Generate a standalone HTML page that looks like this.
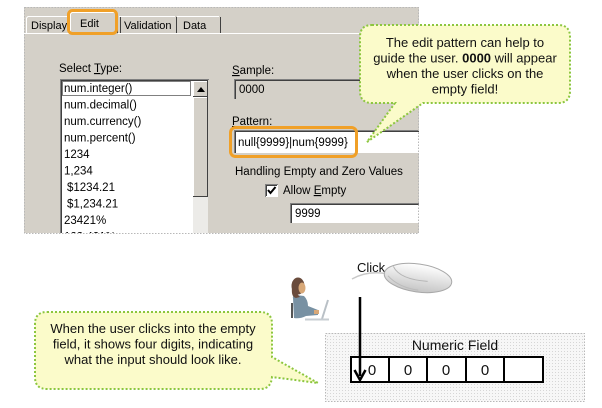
<!DOCTYPE html>
<html><head><meta charset="utf-8">
<style>
html,body{margin:0;padding:0;background:#fff;}
svg{display:block;}
.d{font-family:"Liberation Sans",sans-serif;font-size:11.5px;fill:#000;}
.t{font-family:"Liberation Sans",sans-serif;font-size:11px;fill:#000;}
.c{font-family:"Liberation Sans",sans-serif;font-size:13px;fill:#111;}
</style></head>
<body>
<svg width="602" height="408" viewBox="0 0 602 408" xmlns="http://www.w3.org/2000/svg">
<defs>
  <clipPath id="panel"><rect x="24" y="7" width="395" height="226"/></clipPath>
  <pattern id="grid" width="3" height="3" patternUnits="userSpaceOnUse">
    <rect width="3" height="3" fill="#f7f7f7"/>
    <rect width="1" height="1" fill="#d6d6d6"/>
  </pattern>
  <linearGradient id="mg" x1="0" y1="0" x2="0" y2="1">
    <stop offset="0" stop-color="#ffffff"/>
    <stop offset="1" stop-color="#c4c4c4"/>
  </linearGradient>
</defs>

<!-- ===== Dialog screenshot ===== -->
<g clip-path="url(#panel)">
  <rect x="24" y="7" width="395" height="226" fill="#d4d0c8"/>
  <line x1="24" y1="33.5" x2="419" y2="33.5" stroke="#fff"/>
  <!-- Display tab -->
  <path d="M26.5 33 V18 L28 16.5 H70" fill="none" stroke="#fff"/>
  <text class="t" x="31" y="29">Display</text>
  <!-- Edit tab (active) -->
  <rect x="70" y="12" width="48" height="22" fill="#d4d0c8"/>
  <path d="M70.5 34 V14 L72 12.5 H116" fill="none" stroke="#fff"/>
  <path d="M117.5 14 V33" fill="none" stroke="#404040"/>
  <text class="t" x="80" y="27">Edit</text>
  <!-- Validation tab -->
  <path d="M119 16.5 H175" fill="none" stroke="#fff"/>
  <path d="M120.5 17 V33" stroke="#404040"/>
  <path d="M176.5 17 V33" stroke="#404040"/>
  <text class="t" x="124" y="29">Validation</text>
  <!-- Data tab -->
  <path d="M177 16.5 H219" fill="none" stroke="#fff"/>
  <path d="M220.5 17 V33" stroke="#404040"/>
  <text class="t" x="183" y="29">Data</text>

  <text class="d" x="59" y="72">Select <tspan text-decoration="underline">T</tspan>ype:</text>
  <!-- listbox -->
  <rect x="60" y="79" width="149" height="170" fill="#fff"/>
  <path d="M60.5 249 V79.5 H209" fill="none" stroke="#808080"/>
  <path d="M61.5 249 V80.5 H208" fill="none" stroke="#404040"/>
  <path d="M208.5 80 V249" stroke="#d4d0c8"/>
  <!-- scrollbar -->
  <rect x="193" y="81" width="15" height="168" fill="#ecebe8"/>
  <rect x="193" y="81" width="15" height="16" fill="#d4d0c8"/>
  <path d="M193.5 96 V81.5 H207" fill="none" stroke="#fff"/>
  <path d="M193 96.5 H207.5 V81" fill="none" stroke="#404040"/>
  <path d="M197 92 L201 87 L205 92 Z" fill="#000"/>
  <rect x="193" y="97" width="15" height="100" fill="#d4d0c8"/>
  <path d="M193.5 196 V97.5 H207" fill="none" stroke="#fff"/>
  <path d="M193 196.5 H207.5 V97" fill="none" stroke="#404040"/>
  <rect x="62.5" y="81.5" width="128" height="14" fill="none" stroke="#000" stroke-dasharray="1 1"/>
  <text class="d" x="64" y="92">num.integer()</text>
  <text class="d" x="64" y="108.5">num.decimal()</text>
  <text class="d" x="64" y="125">num.currency()</text>
  <text class="d" x="64" y="141.5">num.percent()</text>
  <text class="d" x="64" y="158">1234</text>
  <text class="d" x="64" y="174.5">1,234</text>
  <text class="d" x="67" y="191">$1234.21</text>
  <text class="d" x="67" y="207.5">$1,234.21</text>
  <text class="d" x="64" y="224">23421%</text>
  <text class="d" x="64" y="240.5">123,421%</text>

  <!-- Sample -->
  <text class="d" x="232" y="74"><tspan text-decoration="underline">S</tspan>ample:</text>
  <rect x="234" y="79" width="190" height="20" fill="#d4d0c8"/>
  <path d="M234.5 99 V79.5 H424" fill="none" stroke="#808080"/>
  <path d="M235.5 99 V80.5 H424" fill="none" stroke="#404040"/>
  <text class="d" x="239" y="93">0000</text>

  <!-- Pattern -->
  <text class="d" x="232" y="125"><tspan text-decoration="underline">P</tspan>attern:</text>
  <rect x="234" y="130" width="190" height="23" fill="#fff"/>
  <path d="M234.5 153 V130.5 H424" fill="none" stroke="#808080"/>
  <path d="M235.5 153 V131.5 H424" fill="none" stroke="#404040"/>
  <text class="d" x="238" y="146">null{9999}|num{9999}</text>

  <text class="d" x="235" y="175">Handling Empty and Zero Values</text>
  <rect x="265" y="184" width="13" height="13" fill="#fff"/>
  <path d="M265.5 197 V184.5 H278" fill="none" stroke="#808080"/>
  <path d="M266.5 196 V185.5 H277" fill="none" stroke="#404040"/>
  <path d="M268 190 L270.5 193 L275.5 187" fill="none" stroke="#000" stroke-width="2"/>
  <text class="d" x="283" y="194">Allow <tspan text-decoration="underline">E</tspan>mpty</text>

  <rect x="290" y="203" width="134" height="20" fill="#fff"/>
  <path d="M290.5 223 V203.5 H424" fill="none" stroke="#808080"/>
  <path d="M291.5 223 V204.5 H424" fill="none" stroke="#404040"/>
  <text class="d" x="295" y="217">9999</text>
</g>
<rect x="24.5" y="7.5" width="394" height="226" fill="none" stroke="#b8b8b8" stroke-dasharray="1.5 1.5"/>

<rect x="68.5" y="10.5" width="48" height="23" rx="4" fill="none" stroke="#f0a028" stroke-width="3"/>
<rect x="230.5" y="127.5" width="126" height="29" rx="5" fill="none" stroke="#f0a028" stroke-width="3"/>

<!-- top callout -->
<path d="M372 25 H558 Q570 25 570 37 V91 Q570 103 558 103 H423 L367 142 L395 103 H372 Q360 103 360 91 V37 Q360 25 372 25 Z"
  fill="#fbfbca" stroke="#8cc63f" stroke-width="2" stroke-dasharray="2 2"/>
<text class="c" x="465" y="47" text-anchor="middle">The edit pattern can help to</text>
<text class="c" x="465" y="62.5" text-anchor="middle">guide the user. <tspan font-weight="bold">0000</tspan> will appear</text>
<text class="c" x="465" y="78" text-anchor="middle">when the user clicks on the</text>
<text class="c" x="465" y="93.5" text-anchor="middle">empty field!</text>

<!-- bottom callout -->
<path d="M47 312 H260 Q272 312 272 324 V357 L318 383 L272 377 Q271 389 260 389 H47 Q35 389 35 377 V324 Q35 312 47 312 Z"
  fill="#fbfbca" stroke="#8cc63f" stroke-width="2" stroke-dasharray="2 2"/>
<text class="c" x="153" y="333" text-anchor="middle">When the user clicks into the empty</text>
<text class="c" x="153" y="348.5" text-anchor="middle">field, it shows four digits, indicating</text>
<text class="c" x="153" y="364" text-anchor="middle">what the input should look like.</text>

<!-- woman -->
<g>
  <path d="M292 303 V318" stroke="#555" stroke-width="2"/>
  <path d="M293 298 Q292 296 296 295 L304 296 Q308 300 308 306 L318 310 L318 315 L306 316 Q300 319 294 318 Z" fill="#7891a3"/>
  <ellipse cx="298" cy="286" rx="6.5" ry="8.5" fill="#6a4b3c"/>
  <path d="M292 288 Q291 297 296 298 L300 297 Z" fill="#6a4b3c"/>
  <ellipse cx="302" cy="288" rx="3.5" ry="5.5" fill="#d8a878"/>
  <rect x="314" y="310" width="5" height="4" fill="#d8a878"/>
  <path d="M322 319 L328 300" stroke="#b9c0c6" stroke-width="2"/>
  <path d="M305 319.5 H329" stroke="#c7cdd2" stroke-width="2"/>
</g>

<!-- Click & mouse -->
<text class="c" x="357" y="272">Click</text>
<path d="M352 279 Q368 270 388 274" fill="none" stroke="#c8c8c8" stroke-width="1.5"/>
<g transform="rotate(8 418 278)">
  <ellipse cx="418" cy="278" rx="34" ry="14" fill="url(#mg)" stroke="#a8a8a8"/>
  <path d="M392 270 Q400 282 428 280" fill="none" stroke="#b4b4b4"/>
  <path d="M388 280 Q400 290 420 290" fill="none" stroke="#bbbbbb"/>
</g>

<!-- numeric field -->
<rect x="325.5" y="333.5" width="259" height="68" fill="url(#grid)" stroke="#b8b8b8" stroke-dasharray="1.5 1.5"/>
<text x="455" y="350" text-anchor="middle" font-family="Liberation Sans, sans-serif" font-size="14" fill="#111">Numeric Field</text>
<rect x="351" y="357" width="192" height="25" fill="#fff" stroke="#000" stroke-width="2"/>
<path d="M389 357 V382 M427 357 V382 M466 357 V382 M504 357 V382" stroke="#000" stroke-width="2"/>
<g font-family="Liberation Sans, sans-serif" font-size="15" fill="#111" text-anchor="middle">
  <text x="372" y="375">0</text>
  <text x="408" y="375">0</text>
  <text x="446" y="375">0</text>
  <text x="485" y="375">0</text>
</g>
<path d="M360 297 V376" stroke="#000" stroke-width="2.5"/>
<path d="M354.5 370 L360 380 L365.5 370" fill="none" stroke="#000" stroke-width="2.5"/>
</svg>
</body></html>
